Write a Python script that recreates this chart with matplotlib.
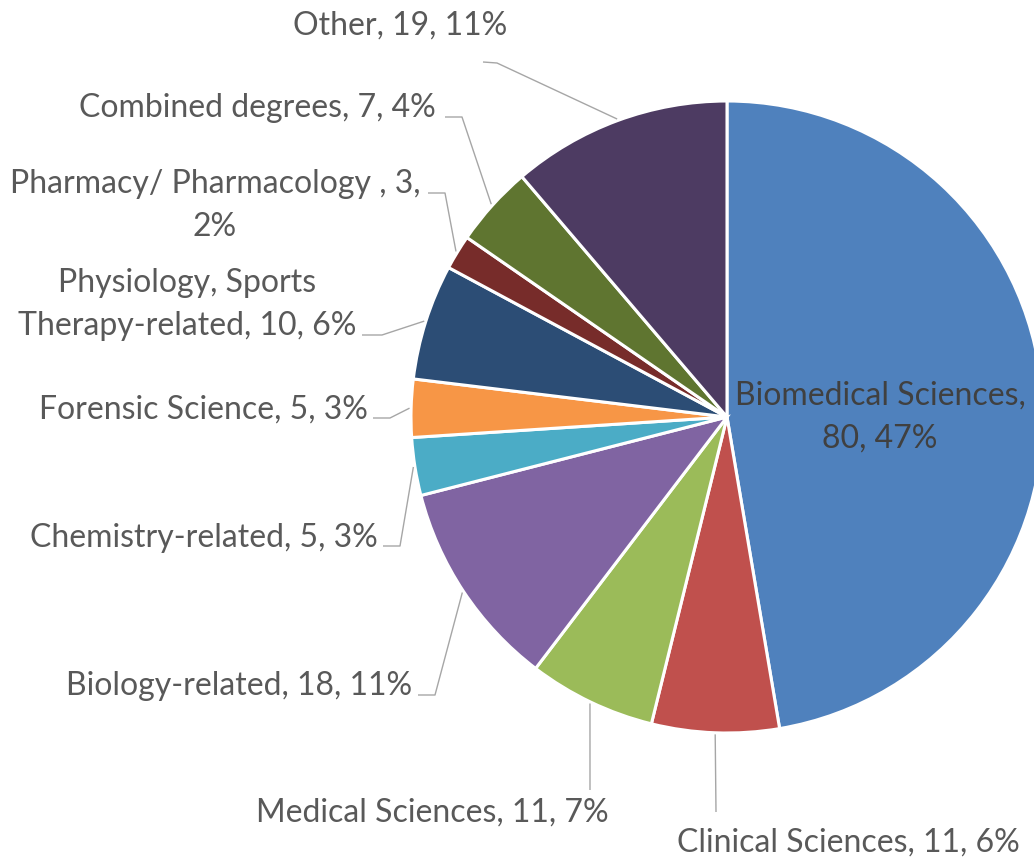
import matplotlib
matplotlib.use("Agg")
import matplotlib.pyplot as plt
import numpy as np

# ---- data ----
categories = ["Biomedical Sciences", "Clinical Sciences", "Medical Sciences",
              "Biology-related", "Chemistry-related", "Forensic Science",
              "Physiology, Sports Therapy-related", "Pharmacy/ Pharmacology ",
              "Combined degrees", "Other"]
values = [80, 11, 11, 18, 5, 5, 10, 3, 7, 19]
percent_labels = ["47%", "6%", "7%", "11%", "3%", "3%", "6%", "2%", "4%", "11%"]
label_texts = ["Biomedical Sciences,\n80, 47%",
               "Clinical Sciences, 11, 6%",
               "Medical Sciences, 11, 7%",
               "Biology-related, 18, 11%",
               "Chemistry-related, 5, 3%",
               "Forensic Science, 5, 3%",
               "Physiology, Sports\nTherapy-related, 10, 6%",
               "Pharmacy/ Pharmacology , 3,\n2%",
               "Combined degrees, 7, 4%",
               "Other, 19, 11%"]
colors = ["#4F81BD", "#C0504D", "#9BBB59", "#8064A2", "#4BACC6",
          "#F79646", "#2C4D75", "#772C2A", "#5F7530", "#4D3B62"]

# ---- layout (pixel coords, y from top) ----
W, H = 1034, 858
CX, CY, R = 727, 417, 316
# (x, first baseline y, ha, elbow points from text side)
layout = [
    (880, 405, "center", None),
    (848, 852, "center", [(716, 812)]),
    (432, 822, "center", [(590, 790)]),
    (412, 695, "right", [(418, 695), (435, 695)]),
    (378, 547, "right", [(383, 546), (400, 546)]),
    (368, 419, "right", [(373, 418), (390, 418)]),
    (187, 292, "center", [(362, 335), (382, 335)]),
    (215, 193, "center", [(428, 193), (445, 193)]),
    (436, 117, "right", [(445, 117), (462, 117)]),
    (400, 35, "center", [(483, 62), (497, 63)]),
]
LINE_H = 43

fig = plt.figure(figsize=(W / 100, H / 100), dpi=100)
ax = fig.add_axes([0, 0, 1, 1])

wedges, _ = ax.pie(values, colors=colors, startangle=90, counterclock=False,
                   center=(CX, H - CY), radius=R, frame=True,
                   wedgeprops=dict(edgecolor="white", linewidth=2.2))
ax.set_xlim(0, W)
ax.set_ylim(0, H)
ax.axis("off")

font = dict(family=["Lato", "DejaVu Sans"], fontsize=23)

for w, txt, (tx, ty, ha, elbow) in zip(wedges, label_texts, layout):
    c = "#404040" if elbow is None else "#595959"
    for i, line in enumerate(txt.split("\n")):
        ax.text(tx, H - (ty + i * LINE_H), line, ha=ha, va="baseline",
                color=c, **font)
    if elbow:
        mid = np.deg2rad((w.theta1 + w.theta2) / 2)
        px = CX + R * 1.005 * np.cos(mid)
        py = (H - CY) + R * 1.005 * np.sin(mid)
        xs = [p[0] for p in elbow] + [px]
        ys = [H - p[1] for p in elbow] + [py]
        ax.plot(xs, ys, color="#A6A6A6", lw=1.0, solid_capstyle="butt")

fig.savefig("out.png", dpi=100)
